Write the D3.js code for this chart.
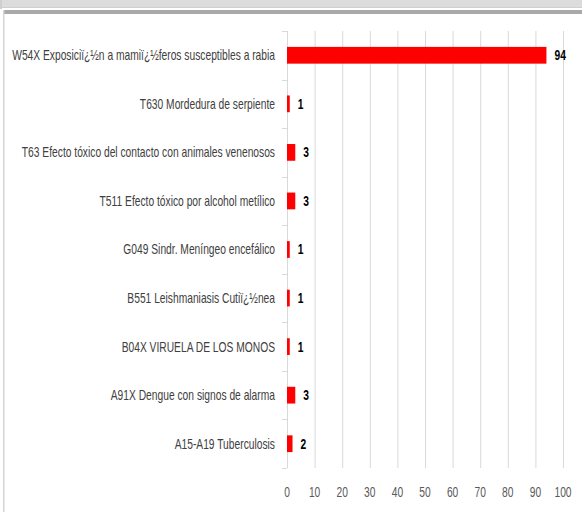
<!DOCTYPE html>
<html>
<head>
<meta charset="utf-8">
<script src="https://cdn.jsdelivr.net/npm/d3@7"></script>
<style>
  body { margin: 0; background: #fff; }
  svg { display: block; }
</style>
</head>
<body>
<script>
var width = 582,
    height = 512;

// data, top to bottom as in the chart
var categories = [
  "W54X Exposiciï¿½n a mamiï¿½feros susceptibles a rabia",
  "T630 Mordedura de serpiente",
  "T63 Efecto tóxico del contacto con animales venenosos",
  "T511 Efecto tóxico por alcohol metílico",
  "G049 Sindr. Meníngeo encefálico",
  "B551 Leishmaniasis Cutiï¿½nea",
  "B04X VIRUELA DE LOS MONOS",
  "A91X Dengue con signos de alarma",
  "A15-A19 Tuberculosis"
];
var values = [94, 1, 3, 3, 1, 1, 1, 3, 2];
var xTicks = [0, 10, 20, 30, 40, 50, 60, 70, 80, 90, 100];

var margin = {left: 287, right: 19, top: 31, bottom: 44};
var font = "'Liberation Sans', Arial, sans-serif";

var svg = d3.select("body").append("svg")
    .attr("width", width)
    .attr("height", height);

// window-ish frame
svg.append("rect").attr("x", 0).attr("y", 0).attr("width", width).attr("height", 8).attr("fill", "#dcdcdc");
svg.append("rect").attr("x", 0).attr("y", 7).attr("width", width).attr("height", 1).attr("fill", "#cfcfcf");
svg.append("rect").attr("x", 0).attr("y", 0).attr("width", 2).attr("height", 9).attr("fill", "#cfcfcf");
svg.append("rect").attr("x", 3).attr("y", 10).attr("width", width - 3).attr("height", 4).attr("fill", "#a9a9a9");
svg.append("rect").attr("x", 3).attr("y", 10).attr("width", 1.5).attr("height", height - 10).attr("fill", "#d4d4d4");

var x = d3.scaleLinear()
    .domain([0, 100])
    .range([margin.left, width - margin.right]);

var y = d3.scaleBand()
    .domain(categories)
    .range([margin.top, height - margin.bottom])
    .paddingInner(0.655)
    .paddingOuter(0.3275);

// gridlines
svg.append("g")
    .selectAll("line")
    .data(xTicks.slice(1))
    .enter().append("line")
      .attr("x1", function(d){ return x(d) + 0.5 })
      .attr("x2", function(d){ return x(d) + 0.5 })
      .attr("y1", margin.top)
      .attr("y2", height - margin.bottom)
      .attr("stroke", "#d9d9d9")
      .attr("stroke-width", 1);

// category axis line + ticks between categories
var yAxis = svg.append("g");
yAxis.append("line")
    .attr("x1", x(0) + 0.5).attr("x2", x(0) + 0.5)
    .attr("y1", margin.top).attr("y2", height - margin.bottom)
    .attr("stroke", "#d9d9d9");

var step = y.step();
var bounds = d3.range(categories.length + 1).map(function(i){ return y.range()[0] + i * step });
yAxis.selectAll(".tk")
    .data(bounds)
    .enter().append("line")
      .attr("class", "tk")
      .attr("x1", x(0) - 5).attr("x2", x(0))
      .attr("y1", function(d){ return Math.round(d) + 0.5 })
      .attr("y2", function(d){ return Math.round(d) + 0.5 })
      .attr("stroke", "#d9d9d9");

// category labels (squeezed horizontally to mimic a narrow font)
var labels = svg.append("g")
    .selectAll("text")
    .data(categories)
    .enter().append("text")
      .attr("text-anchor", "end")
      .attr("dy", "0.35em")
      .attr("font-family", font)
      .attr("font-size", 14)
      .attr("fill", "#404040")
      .text(function(d){ return d });

var squeeze = 263 / labels.node().getComputedTextLength();
labels.attr("transform", function(d){
  return "translate(" + (x(0) - 12) + "," + (y(d) + y.bandwidth() / 2) + ") scale(" + squeeze + ",1)";
});

// bars
svg.append("g")
    .selectAll("rect")
    .data(values)
    .enter().append("rect")
      .attr("x", x(0))
      .attr("y", function(d,i){ return y(categories[i]) })
      .attr("width", function(d){ return x(d) - x(0) })
      .attr("height", y.bandwidth())
      .attr("fill", "#ff0000");

// value labels
svg.append("g")
    .selectAll("text")
    .data(values)
    .enter().append("text")
      .attr("transform", function(d,i){
        return "translate(" + (x(d) + 8) + "," + (y(categories[i]) + y.bandwidth() / 2) + ") scale(" + squeeze + ",1)";
      })
      .attr("dy", "0.35em")
      .attr("font-family", font)
      .attr("font-size", 14)
      .attr("font-weight", "bold")
      .attr("fill", "#000")
      .text(function(d){ return d });

// x tick labels
svg.append("g")
    .selectAll("text")
    .data(xTicks)
    .enter().append("text")
      .attr("transform", function(d){ return "translate(" + x(d) + ",492) scale(" + squeeze + ",1)" })
      .attr("dy", "0.35em")
      .attr("text-anchor", "middle")
      .attr("font-family", font)
      .attr("font-size", 14)
      .attr("fill", "#595959")
      .text(function(d){ return d });
</script>
</body>
</html>
